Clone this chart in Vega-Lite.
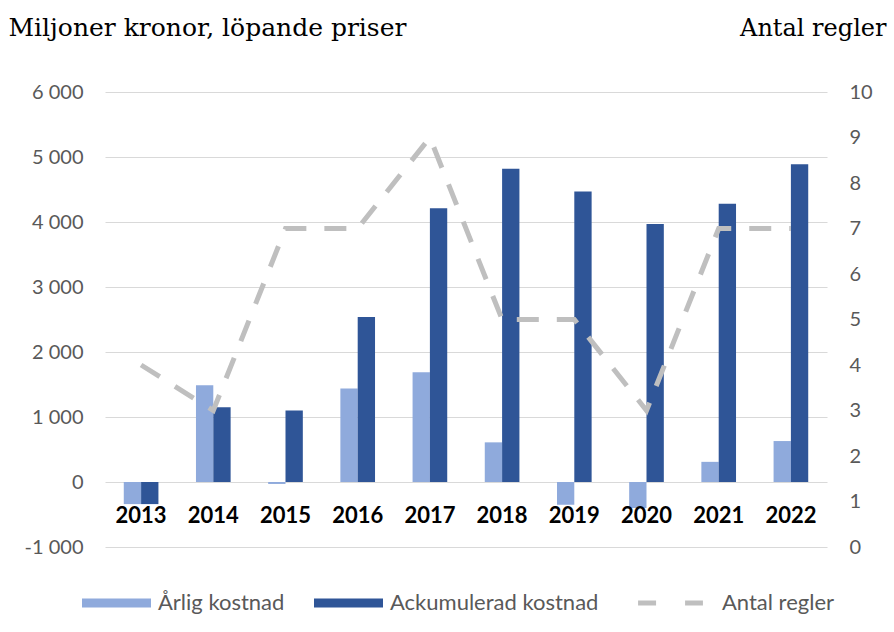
{
  "$schema": "https://vega.github.io/schema/vega-lite/v6.json",
  "autosize": "none",
  "width": 722,
  "height": 455,
  "padding": {"left": 105, "top": 92, "right": 67, "bottom": 85},
  "background": "white",
  "config": {
    "view": {"stroke": null}
  },
  "datasets": {
    "bars": [
      {"year": "2013", "serie": "Årlig kostnad", "value": -340},
      {"year": "2013", "serie": "Ackumulerad kostnad", "value": -340},
      {"year": "2014", "serie": "Årlig kostnad", "value": 1490},
      {"year": "2014", "serie": "Ackumulerad kostnad", "value": 1150},
      {"year": "2015", "serie": "Årlig kostnad", "value": -30},
      {"year": "2015", "serie": "Ackumulerad kostnad", "value": 1100},
      {"year": "2016", "serie": "Årlig kostnad", "value": 1440},
      {"year": "2016", "serie": "Ackumulerad kostnad", "value": 2540},
      {"year": "2017", "serie": "Årlig kostnad", "value": 1690},
      {"year": "2017", "serie": "Ackumulerad kostnad", "value": 4210},
      {"year": "2018", "serie": "Årlig kostnad", "value": 610},
      {"year": "2018", "serie": "Ackumulerad kostnad", "value": 4820},
      {"year": "2019", "serie": "Årlig kostnad", "value": -350},
      {"year": "2019", "serie": "Ackumulerad kostnad", "value": 4470},
      {"year": "2020", "serie": "Årlig kostnad", "value": -400},
      {"year": "2020", "serie": "Ackumulerad kostnad", "value": 3970},
      {"year": "2021", "serie": "Årlig kostnad", "value": 310},
      {"year": "2021", "serie": "Ackumulerad kostnad", "value": 4280},
      {"year": "2022", "serie": "Årlig kostnad", "value": 630},
      {"year": "2022", "serie": "Ackumulerad kostnad", "value": 4890}
    ],
    "rules": [
      {"year": "2013", "serie": "Antal regler", "antal": 4},
      {"year": "2014", "serie": "Antal regler", "antal": 3},
      {"year": "2015", "serie": "Antal regler", "antal": 7},
      {"year": "2016", "serie": "Antal regler", "antal": 7},
      {"year": "2017", "serie": "Antal regler", "antal": 9},
      {"year": "2018", "serie": "Antal regler", "antal": 5},
      {"year": "2019", "serie": "Antal regler", "antal": 5},
      {"year": "2020", "serie": "Antal regler", "antal": 3},
      {"year": "2021", "serie": "Antal regler", "antal": 7},
      {"year": "2022", "serie": "Antal regler", "antal": 7}
    ]
  },
  "encoding": {
    "x": {
      "field": "year", "type": "nominal", "sort": null,
      "scale": {"paddingInner": 0.52, "paddingOuter": 0.26},
      "axis": {
        "title": null, "orient": "bottom", "offset": -65, "domain": false, "ticks": false,
        "labelAngle": 0, "labelFont": "Lato", "labelFontSize": 22, "labelFontWeight": "bold",
        "labelColor": "#000000", "labelPadding": 23, "zindex": 1
      }
    }
  },
  "layer": [
    {
      "data": {"name": "bars"},
      "mark": {"type": "bar"},
      "encoding": {
        "xOffset": {"field": "serie", "type": "nominal", "sort": ["Årlig kostnad", "Ackumulerad kostnad"], "scale": {"paddingInner": 0, "paddingOuter": 0}},
        "y": {
          "field": "value", "type": "quantitative",
          "scale": {"domain": [-1000, 6000], "nice": false},
          "axis": {
            "orient": "left", "values": [-1000, 0, 1000, 2000, 3000, 4000, 5000, 6000],
            "labelExpr": "datum.value < 0 ? '-' + replace(format(-datum.value, ','), ',', ' ') : replace(format(datum.value, ','), ',', ' ')",
            "domain": false, "ticks": false, "grid": true, "gridColor": "#d9d9d9", "gridWidth": 1,
            "labelFont": "Lato", "labelFontSize": 20, "labelColor": "#595959", "labelPadding": 22,
            "title": "Miljoner kronor, löpande priser", "titleAngle": 0, "titleAlign": "left", "titleBaseline": "alphabetic",
            "titleX": -97, "titleY": -57, "titleFont": "DejaVu Serif", "titleFontSize": 25, "titleFontWeight": "normal", "titleColor": "#000000", "titleLimit": 600
          }
        },
        "color": {
          "field": "serie", "type": "nominal",
          "scale": {"domain": ["Årlig kostnad", "Ackumulerad kostnad", "Antal regler"], "range": ["#8faadc", "#2f5597", "#bfbfbf"]},
          "legend": {
            "title": null, "orient": "none", "direction": "horizontal", "legendX": -23, "legendY": 500,
            "labelFont": "Lato", "labelFontSize": 22, "labelColor": "#595959", "labelOffset": 7, "columnPadding": 29, "labelLimit": 400,
            "symbolSize": 4761, "symbolType": "square", "symbolStrokeWidth": 0,
            "encode": {
              "symbols": {
                "update": {
                  "x": {"signal": "datum.value === 'Antal regler' ? 22.5 : 34.5"},
                  "shape": {"signal": "datum.value === 'Antal regler' ? 'M-0.94,0H0.94' : 'M-1,-0.13H1V0.13H-1Z'"},
                  "size": {"value": 4761},
                  "fill": {"signal": "datum.value === 'Antal regler' ? 'transparent' : scale('color', datum.value)"},
                  "stroke": {"signal": "datum.value === 'Antal regler' ? '#bfbfbf' : 'transparent'"},
                  "strokeWidth": {"signal": "datum.value === 'Antal regler' ? 5 : 0"},
                  "strokeDash": {"signal": "datum.value === 'Antal regler' ? [18, 29] : []"},
                  "opacity": {"value": 1}
                }
              },
              "labels": {
                "update": {"x": {"signal": "datum.value === 'Antal regler' ? 74 : 76"}}
              }
            }
          }
        }
      }
    },
    {
      "data": {"name": "rules"},
      "mark": {"type": "line", "strokeWidth": 5, "strokeDash": [22, 18]},
      "encoding": {
        "y": {
          "field": "antal", "type": "quantitative",
          "scale": {"domain": [0, 10], "nice": false},
          "axis": {
            "orient": "right", "values": [0, 1, 2, 3, 4, 5, 6, 7, 8, 9, 10],
            "domain": false, "ticks": false, "grid": false,
            "labelFont": "Lato", "labelFontSize": 20, "labelColor": "#595959", "labelPadding": 22,
            "title": "Antal regler", "titleAngle": 0, "titleAlign": "right", "titleBaseline": "alphabetic",
            "titleX": 59, "titleY": -57, "titleFont": "DejaVu Serif", "titleFontSize": 24, "titleFontWeight": "normal", "titleColor": "#000000"
          }
        },
        "color": {"field": "serie", "type": "nominal"}
      }
    }
  ],
  "resolve": {"scale": {"y": "independent"}}
}
